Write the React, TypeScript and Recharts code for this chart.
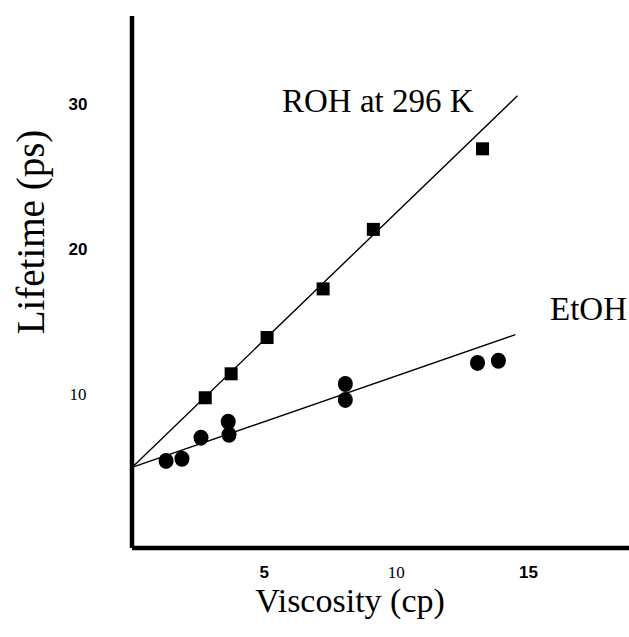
import {
  ScatterChart,
  Scatter,
  XAxis,
  YAxis,
  ReferenceLine,
  Customized,
} from 'recharts';

// ROH at 296 K (squares)
const rohViscosity = [2.77, 3.75, 5.11, 7.23, 9.13, 13.26];
const rohLifetime = [9.8, 11.45, 13.95, 17.3, 21.4, 26.95];

// EtOH (circles)
const etohViscosity = [1.29, 1.89, 2.61, 3.64, 3.67, 8.07, 8.07, 13.07, 13.86];
const etohLifetime = [5.45, 5.6, 7.05, 8.15, 7.25, 10.75, 9.65, 12.2, 12.35];

// fitted lines, end points
const rohFit = [
  { x: 0, y: 5 },
  { x: 14.58, y: 30.6 },
];
const etohFit = [
  { x: 0, y: 5 },
  { x: 14.5, y: 14.15 },
];

const xTicks = [5, 10, 15];
const yTicks = [10, 20, 30];

const rohData = rohViscosity.map((x, i) => ({ x, y: rohLifetime[i] }));
const etohData = etohViscosity.map((x, i) => ({ x, y: etohLifetime[i] }));

const serif = '"Liberation Serif", "Times New Roman", serif';
const tickFont = '"Liberation Sans Narrow", "Liberation Sans", Arial, sans-serif';

function Square(props: any) {
  const { cx, cy } = props;
  return <rect x={cx - 6.5} y={cy - 6.5} width={13} height={13} fill="#000" />;
}

function Dot(props: any) {
  const { cx, cy } = props;
  return <ellipse cx={cx} cy={cy} rx={7.5} ry={8} fill="#000" />;
}

function tickStyle(value: number) {
  // the scan mixes two faces: the "10"s are light serif, the rest bold
  return value === 10
    ? { fontFamily: serif, fontWeight: 400, fontSize: 17 }
    : { fontFamily: tickFont, fontWeight: 700, fontSize: 17 };
}

function XTick(props: any) {
  const { x, y, payload } = props;
  return (
    <text x={x} y={y + 16} textAnchor="middle" dominantBaseline="central" fill="#000" {...tickStyle(payload.value)}>
      {payload.value}
    </text>
  );
}

function YTick(props: any) {
  const { y, payload } = props;
  return (
    <text x={78} y={y} textAnchor="middle" dominantBaseline="central" fill="#000" {...tickStyle(payload.value)}>
      {payload.value}
    </text>
  );
}

function Annotations() {
  return (
    <g fill="#000" fontFamily={serif}>
      <text x={282} y={112} fontSize={33}>ROH at 296 K</text>
      <text x={627} y={320} fontSize={33} textAnchor="end">EtOH</text>
      <text x={350} y={612} fontSize={34} textAnchor="middle">Viscosity (cp)</text>
      <text
        x={44}
        y={232}
        fontSize={39}
        textAnchor="middle"
        transform="rotate(-90 44 232)"
      >
        Lifetime (ps)
      </text>
    </g>
  );
}

export default function App() {
  return (
    <div style={{ position: 'absolute', left: 0, top: 0, width: 629, height: 637, background: '#fff' }}>
      <ScatterChart width={629} height={637} margin={{ top: 16, right: 0, bottom: 0, left: 0 }}>
        <XAxis
          type="number"
          dataKey="x"
          domain={[0, 18.8]}
          ticks={xTicks}
          allowDataOverflow
          height={89}
          tickLine={false}
          axisLine={{ stroke: '#000', strokeWidth: 4.5 }}
          tick={<XTick />}
        />
        <YAxis
          type="number"
          dataKey="y"
          domain={[-0.55, 36.1]}
          ticks={yTicks}
          allowDataOverflow
          width={132}
          tickLine={false}
          axisLine={{ stroke: '#000', strokeWidth: 4.5 }}
          tick={<YTick />}
        />
        <ReferenceLine segment={rohFit} stroke="#000" strokeWidth={1.4} ifOverflow="visible" />
        <ReferenceLine segment={etohFit} stroke="#000" strokeWidth={1.4} ifOverflow="visible" />
        <Scatter data={rohData} shape={<Square />} isAnimationActive={false} />
        <Scatter data={etohData} shape={<Dot />} isAnimationActive={false} />
        <Customized component={<Annotations />} />
      </ScatterChart>
    </div>
  );
}
